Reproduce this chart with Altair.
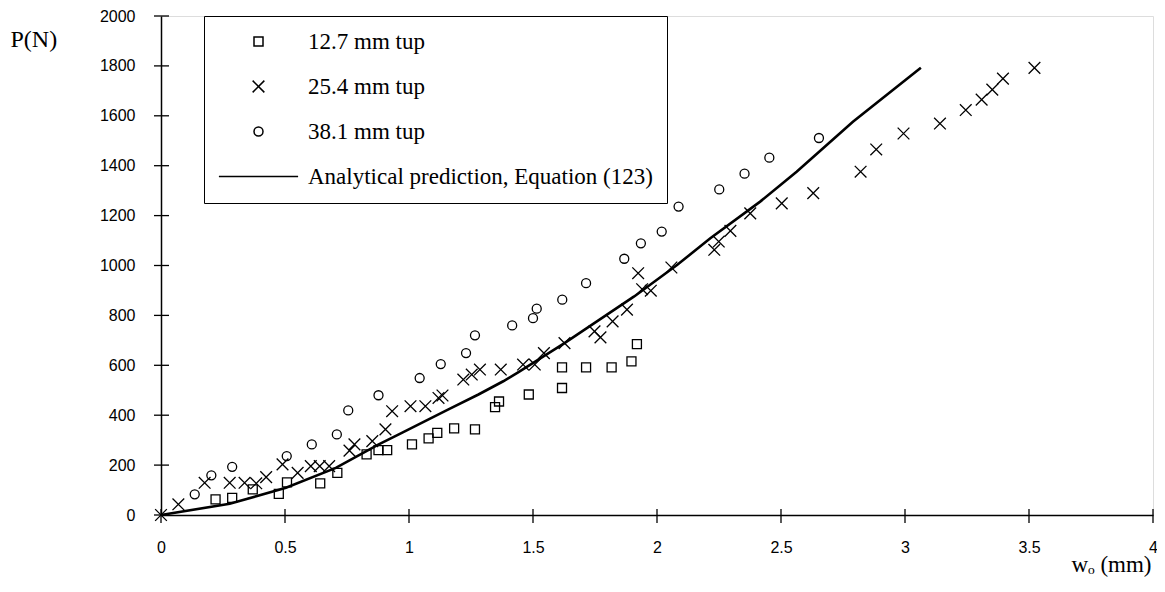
import altair as alt
import pandas as pd

# ---- data ----
series_labels = ["12.7 mm tup", "25.4 mm tup", "38.1 mm tup",
                 "Analytical prediction, Equation (123)"]

sq_x = [0.22, 0.287, 0.37, 0.475, 0.508, 0.642, 0.711, 0.829, 0.877, 0.912,
        1.012, 1.079, 1.114, 1.182, 1.266, 1.347, 1.363, 1.483, 1.617, 1.617,
        1.714, 1.817, 1.897, 1.919]
sq_y = [63, 69, 103, 85, 131, 127, 169, 243, 260, 260,
        283, 307, 329, 347, 343, 432, 455, 483, 509, 592,
        592, 592, 616, 685]

cr_x = [0.0, 0.07, 0.176, 0.277, 0.337, 0.384, 0.424, 0.49, 0.551, 0.604,
        0.64, 0.678, 0.76, 0.78, 0.852, 0.905, 0.932, 1.006, 1.066, 1.119,
        1.135, 1.219, 1.253, 1.286, 1.37, 1.46, 1.507, 1.544, 1.627, 1.748,
        1.772, 1.821, 1.879, 1.924, 1.94, 1.975, 2.058, 2.231, 2.249, 2.296,
        2.376, 2.503, 2.63, 2.821, 2.884, 2.994, 3.141, 3.245, 3.309, 3.352,
        3.395, 3.522]
cr_y = [0, 43, 129, 129, 129, 127, 152, 203, 169, 196,
        196, 196, 258, 283, 296, 343, 416, 436, 436, 469,
        479, 543, 563, 583, 583, 603, 603, 649, 689, 736,
        712, 776, 823, 969, 905, 899, 992, 1063, 1096, 1139,
        1209, 1249, 1290, 1376, 1465, 1529, 1569, 1623, 1665, 1705,
        1749, 1792]

ci_x = [0.136, 0.203, 0.287, 0.507, 0.608, 0.709, 0.755, 0.877, 1.043, 1.128,
        1.23, 1.266, 1.416, 1.5, 1.515, 1.618, 1.714, 1.868, 1.935, 2.019,
        2.087, 2.251, 2.353, 2.453, 2.653]
ci_y = [83, 159, 193, 236, 283, 323, 419, 480, 549, 605,
        649, 720, 760, 789, 827, 863, 929, 1027, 1089, 1136,
        1236, 1305, 1368, 1432, 1511]

line_x = [0.0, 0.277, 0.504, 0.705, 0.878, 0.959, 1.159, 1.28, 1.38, 1.44,
          1.627, 1.908, 2.082, 2.215, 2.416, 2.563, 2.79, 3.064]
line_y = [0, 45, 109, 189, 283, 323, 423, 483, 536, 572,
          689, 876, 1003, 1109, 1256, 1376, 1576, 1793]

x_ticks = [0, 0.5, 1, 1.5, 2, 2.5, 3, 3.5, 4]
y_ticks = [0, 200, 400, 600, 800, 1000, 1200, 1400, 1600, 1800, 2000]

# ---- tables ----
pts = pd.concat([
    pd.DataFrame({"x": sq_x, "y": sq_y, "series": series_labels[0]}),
    pd.DataFrame({"x": cr_x, "y": cr_y, "series": series_labels[1]}),
    pd.DataFrame({"x": ci_x, "y": ci_y, "series": series_labels[2]}),
], ignore_index=True)
line_df = pd.DataFrame({"x": line_x, "y": line_y})
xt_df = pd.DataFrame({"v": x_ticks})
yt_df = pd.DataFrame({"v": y_ticks})

# custom symbol paths (unit space, scaled by sqrt(size)/2)
X_PATH = "M-1.3,-1.3L1.3,1.3M-1.3,1.3L1.3,-1.3"
LINE_PATH = "M-8.8,0L8.8,0"

W, H = 992, 499

x_scale = alt.Scale(domain=[0, 4], nice=False, zero=False)
y_scale = alt.Scale(domain=[0, 2000], nice=False)

x_axis = alt.Axis(values=x_ticks, format="~g", ticks=False, tickSize=0,
                  domainColor="black", domainWidth=1.5, grid=False,
                  labelFont="Liberation Sans", labelFontSize=16, labelColor="black",
                  labelPadding=24, labelFlush=False,
                  title="wₒ (mm)", titleX=W - 2, titleY=56, titleAlign="right",
                  titleBaseline="alphabetic", titleFont="Liberation Serif",
                  titleFontSize=23, titleFontWeight="normal", titleColor="black")
y_axis = alt.Axis(values=y_ticks, format="d", ticks=False, tickSize=0,
                  domainColor="black", domainWidth=1.5, grid=False,
                  labelFont="Liberation Sans", labelFontSize=16, labelColor="black",
                  labelPadding=26, labelFlush=False,
                  title="P(N)", titleAngle=0, titleX=-151, titleY=23,
                  titleAlign="left", titleBaseline="middle",
                  titleFont="Liberation Serif", titleFontSize=24,
                  titleFontWeight="normal", titleColor="black")

legend = alt.Legend(
    title=None, orient="none", legendX=43, legendY=0,
    direction="vertical", strokeColor="black", padding=14,
    labelFont="Liberation Serif", labelFontSize=23,
    labelColor="black", labelOffset=38, labelLimit=600,
    symbolStrokeColor="black", symbolStrokeWidth=1.5,
    symbolSize=81, symbolOffset=29, rowPadding=21,
)

line = alt.Chart(line_df).mark_line(color="black", strokeWidth=2.6).encode(
    x=alt.X("x:Q", scale=x_scale, axis=x_axis),
    y=alt.Y("y:Q", scale=y_scale, axis=y_axis),
)

points = alt.Chart(pts).mark_point(filled=False, color="black", strokeWidth=1.3,
                                   opacity=1, size=81).encode(
    x=alt.X("x:Q", scale=x_scale),
    y=alt.Y("y:Q", scale=y_scale),
    shape=alt.Shape("series:N",
                    scale=alt.Scale(domain=series_labels,
                                    range=["square", X_PATH, "circle", LINE_PATH]),
                    legend=legend),
)

xticks = alt.Chart(xt_df).mark_rule(color="black", strokeWidth=1.3).encode(
    x=alt.X("v:Q", scale=x_scale),
    y=alt.value(H - 6), y2=alt.value(H + 8),
)
yticks = alt.Chart(yt_df).mark_rule(color="black", strokeWidth=1.3).encode(
    y=alt.Y("v:Q", scale=y_scale),
    x=alt.value(-7), x2=alt.value(8),
)

chart = alt.layer(line, points, xticks, yticks).properties(
    width=W, height=H,
    padding={"left": 153, "top": 8, "right": 4, "bottom": 62},
    autosize="none",
).configure_view(stroke=None).configure(background="white")

chart.save("out.html", embed_options={"renderer": "svg", "actions": False})
